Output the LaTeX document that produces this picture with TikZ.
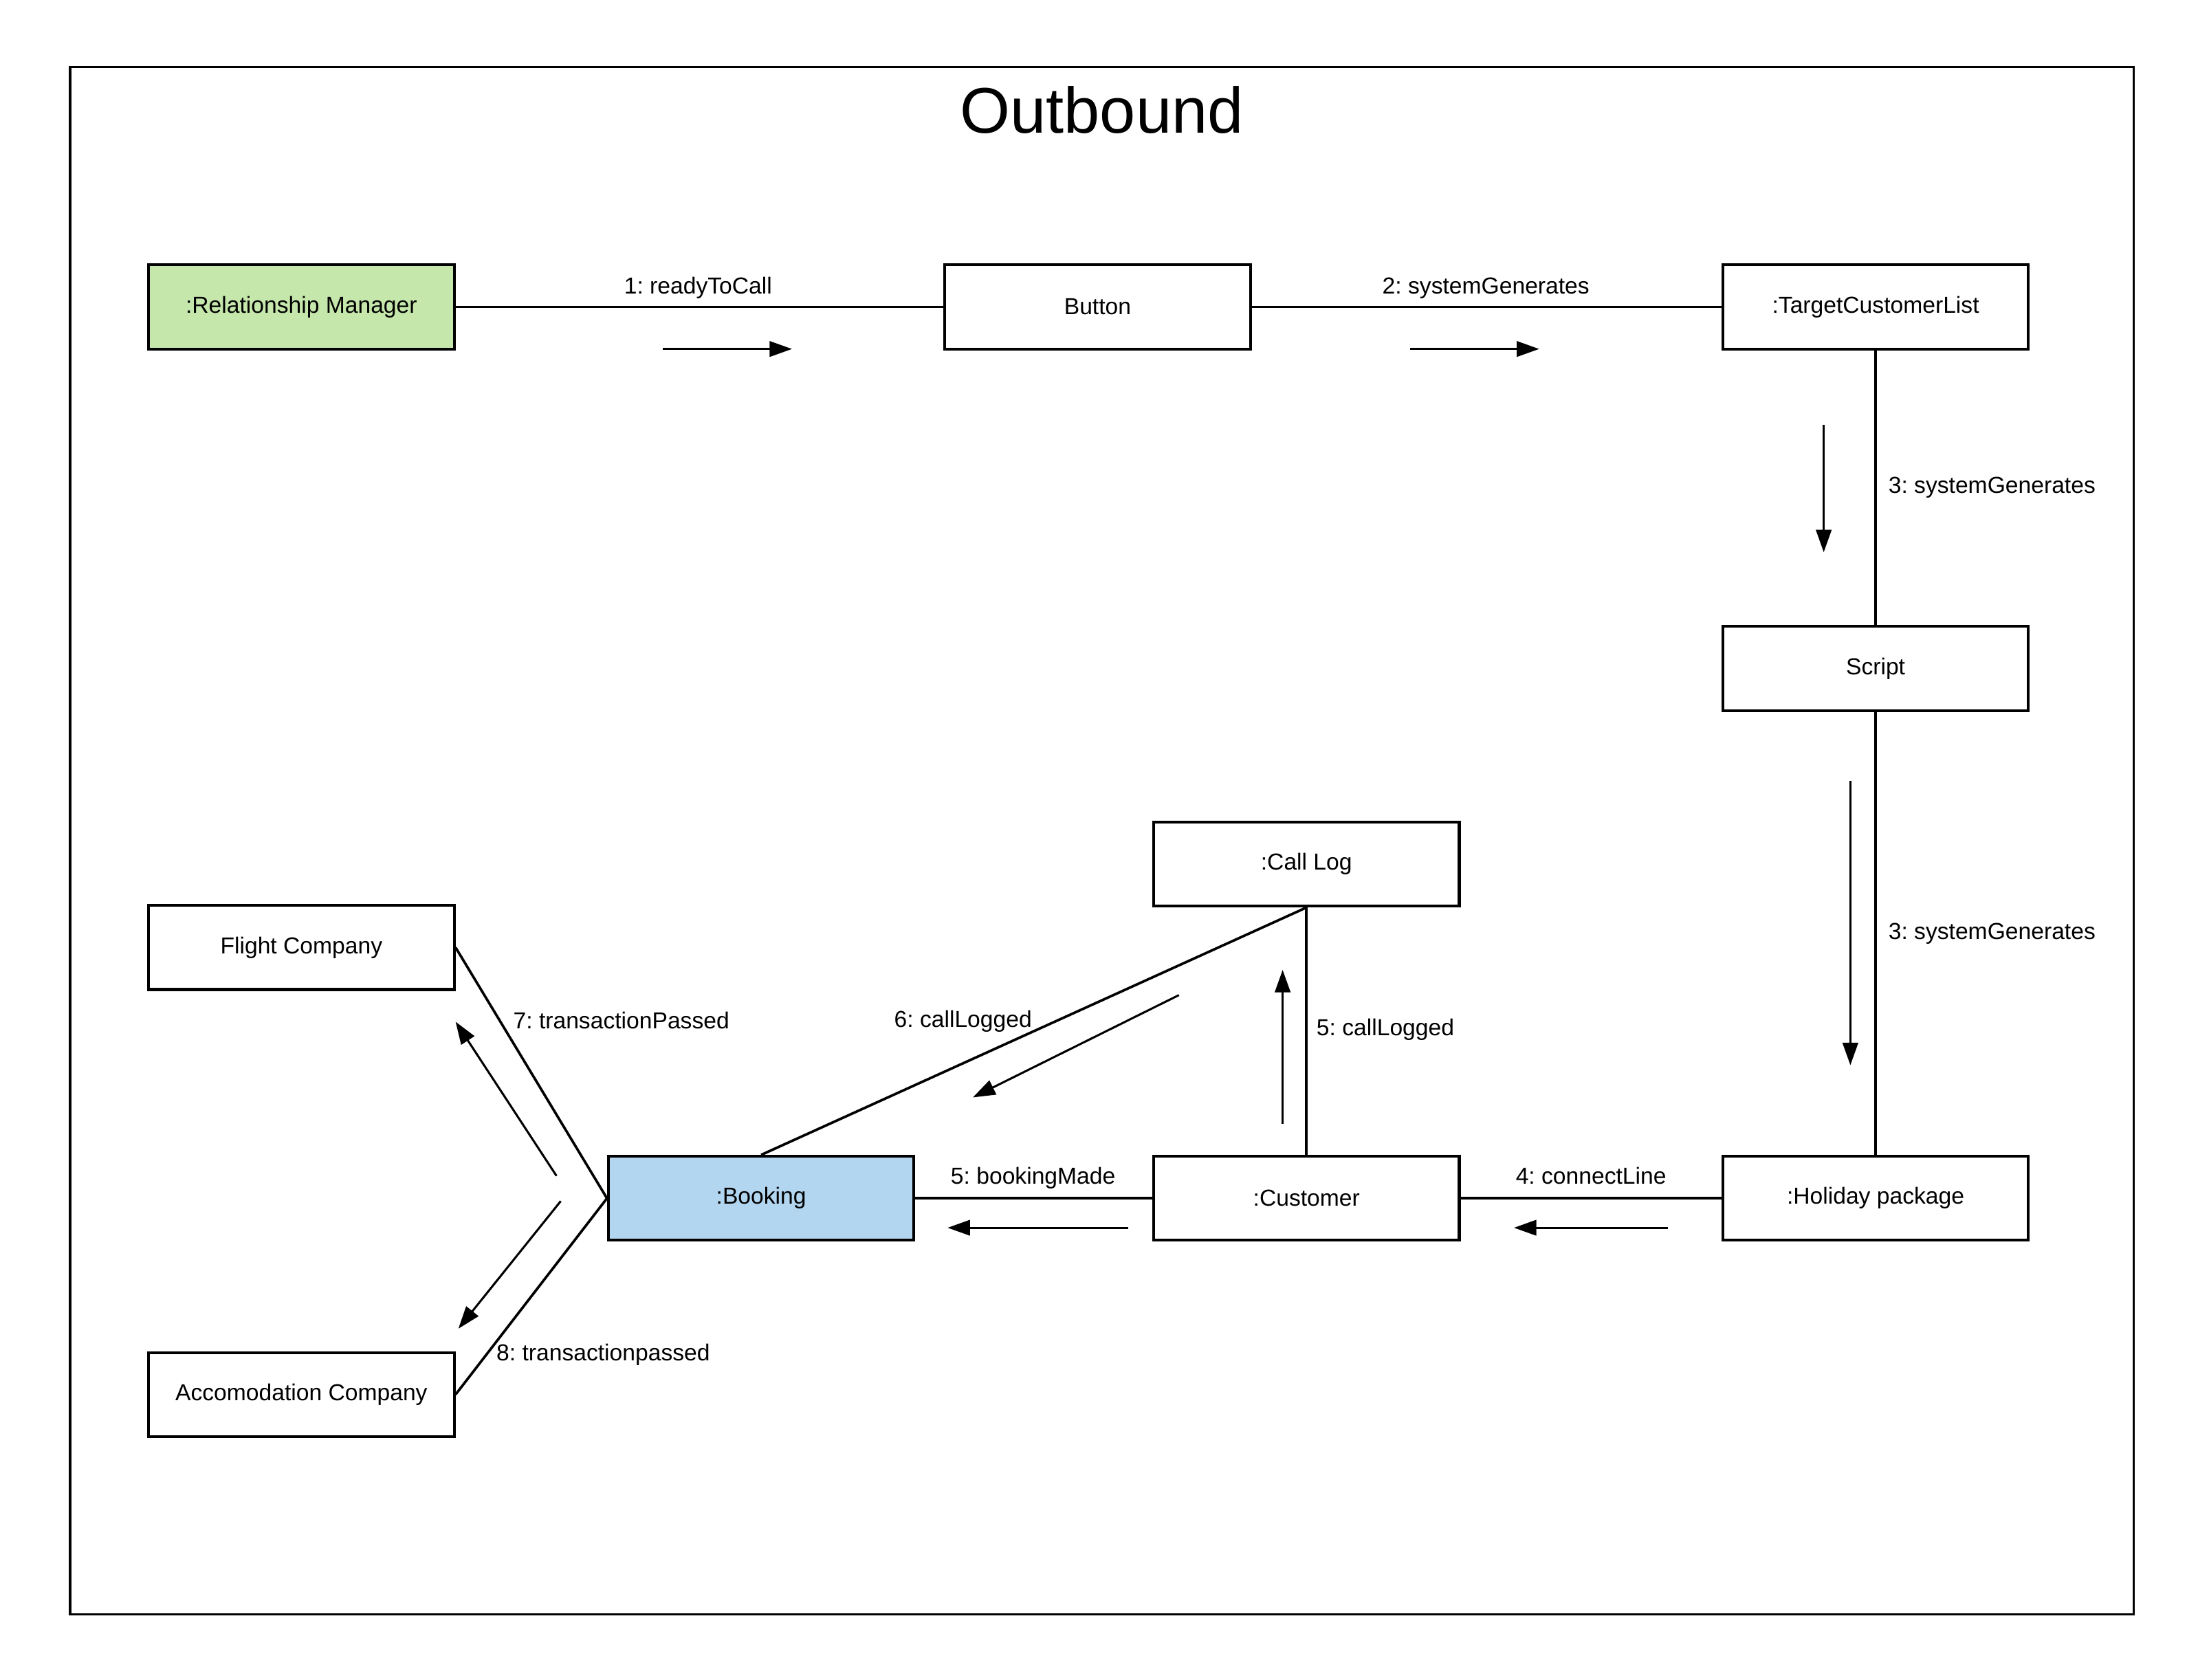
\documentclass[tikz,border=0pt]{standalone}
\usepackage{fontspec}
\setmainfont{Liberation Sans}
\usetikzlibrary{arrows.meta}
\definecolor{rmgreen}{HTML}{C5E7AB}
\definecolor{bkblue}{HTML}{B2D5F0}
\frenchspacing
\tikzset{
  obj/.style={draw, line width=2pt, rectangle, minimum width=218pt, minimum height=60pt, inner sep=0pt, font=\fontsize{16.5}{19}\selectfont},
  conn/.style={line width=1.8pt},
  msg/.style={line width=1.5pt, -{Triangle[length=16pt,width=11pt]}},
  lbl/.style={inner sep=0pt, font=\fontsize{16.5}{19}\selectfont}
}
\begin{document}
\begin{tikzpicture}[x=1pt,y=-1pt]
\useasboundingbox (0,0) rectangle (1568,1198.2);
\draw[line width=1.6pt] (50,48) rectangle (1522,1152);
\node[inner sep=0pt, anchor=base, font=\fontsize{46}{50}\selectfont] (title) at (786,95) {Outbound};

% objects
\node[obj, fill=rmgreen] (rm) at (215,219) {:Relationship Manager};
\node[obj] (btn) at (783,219) {Button};
\node[obj] (tcl) at (1338,219) {:TargetCustomerList};
\node[obj] (scr) at (1338,477) {Script};
\node[obj] (hol) at (1338,855) {:Holiday package};
\node[obj] (cust) at (932,855) {:Customer};
\node[obj, fill=bkblue] (book) at (543,855) {:Booking};
\node[obj] (clog) at (932,616.5) {:Call Log};
\node[obj] (flight) at (215,676) {Flight Company};
\node[obj] (acc) at (215,995) {Accomodation Company};

% connectors
\draw[conn] (rm.east) -- (btn.west);
\draw[conn] (btn.east) -- (tcl.west);
\draw[conn] (tcl.south) -- (scr.north);
\draw[conn] (scr.south) -- (hol.north);
\draw[conn] (hol.west) -- (cust.east);
\draw[conn] (cust.west) -- (book.east);
\draw[conn] (cust.north) -- (clog.south);
\draw[conn] (clog.south) -- (book.north);
\draw[conn] (book.west) -- (flight.east);
\draw[conn] (book.west) -- (acc.east);

% labels
\node[lbl, anchor=base] (l1) at (498,209.5) {1: readyToCall};
\node[lbl, anchor=base] (l2) at (1060,209.5) {2: systemGenerates};
\node[lbl, anchor=base west] (l3a) at (1347,352) {3: systemGenerates};
\node[lbl, anchor=base west] (l3b) at (1347,670) {3: systemGenerates};
\node[lbl, anchor=base] (l4) at (1135,845) {4: connectLine};
\node[lbl, anchor=base] (l5a) at (737,845) {5: bookingMade};
\node[lbl, anchor=base west] (l5b) at (939,739) {5: callLogged};
\node[lbl, anchor=base] (l6) at (687,733) {6: callLogged};
\node[lbl, anchor=base west] (l7) at (366,734) {7: transactionPassed};
\node[lbl, anchor=base west] (l8) at (354,971) {8: transactionpassed};

% message arrows
\coordinate (a1s) at (473,249); \coordinate (a1e) at (565,249);
\coordinate (a2s) at (1006,249); \coordinate (a2e) at (1098,249);
\coordinate (a3s) at (1301,303); \coordinate (a3e) at (1301,394);
\coordinate (a3bs) at (1320,557); \coordinate (a3be) at (1320,760);
\coordinate (a4s) at (1190,876); \coordinate (a4e) at (1080,876);
\coordinate (a5s) at (805,876); \coordinate (a5e) at (676,876);
\coordinate (a5bs) at (915,802); \coordinate (a5be) at (915,692);
\coordinate (a6s) at (841,710); \coordinate (a6e) at (694,783);
\coordinate (a7s) at (397,839); \coordinate (a7e) at (325,729);
\coordinate (a8s) at (400,857); \coordinate (a8e) at (327,948);
\draw[msg] (a1s) -- (a1e);
\draw[msg] (a2s) -- (a2e);
\draw[msg] (a3s) -- (a3e);
\draw[msg] (a3bs) -- (a3be);
\draw[msg] (a4s) -- (a4e);
\draw[msg] (a5s) -- (a5e);
\draw[msg] (a5bs) -- (a5be);
\draw[msg] (a6s) -- (a6e);
\draw[msg] (a7s) -- (a7e);
\draw[msg] (a8s) -- (a8e);
\end{tikzpicture}
\end{document}
